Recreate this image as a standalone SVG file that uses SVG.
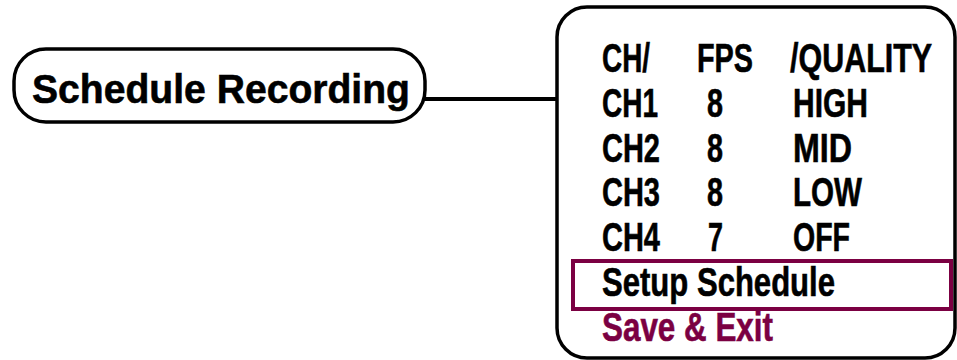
<svg xmlns="http://www.w3.org/2000/svg" width="957" height="360" viewBox="0 0 957 360">
<style>
.t{font-family:"Liberation Sans",Arial,sans-serif;font-weight:bold;font-size:41px;fill:#000;stroke:#000;stroke-width:0.6}
.p{fill:#7B0042;stroke:#7B0042}
.box{fill:#fff;stroke:#000;stroke-width:3.5}
</style>
<rect width="957" height="360" fill="#fff"/>
<g id="connectors">
<line x1="424" y1="99" x2="558" y2="99" stroke="#000" stroke-width="4"/>
</g>
<g id="schedule-recording">
<rect class="box" x="14" y="49" width="411" height="73" rx="32" ry="32" stroke-width="4"/>
<text class="t" x="32" y="103" font-size="50" textLength="378" lengthAdjust="spacingAndGlyphs">Schedule Recording</text>
</g>
<g id="menu">
<rect class="box" x="557" y="7" width="398" height="351" rx="30" ry="30"/>
<text class="t" x="602" y="72" textLength="48" lengthAdjust="spacingAndGlyphs">CH/</text>
<text class="t" x="697" y="72" textLength="56" lengthAdjust="spacingAndGlyphs">FPS</text>
<text class="t" transform="translate(790,72) scale(0.743,1)" x="0" y="0">/QUALITY</text>
<text class="t" x="602" y="117" textLength="56" lengthAdjust="spacingAndGlyphs">CH1</text>
<text class="t" x="707" y="117" textLength="16" lengthAdjust="spacingAndGlyphs">8</text>
<text class="t" x="793" y="117" textLength="75" lengthAdjust="spacingAndGlyphs">HIGH</text>
<text class="t" x="602" y="162" textLength="58" lengthAdjust="spacingAndGlyphs">CH2</text>
<text class="t" x="707" y="162" textLength="16" lengthAdjust="spacingAndGlyphs">8</text>
<text class="t" x="793" y="162" textLength="59" lengthAdjust="spacingAndGlyphs">MID</text>
<text class="t" x="602" y="206" textLength="58" lengthAdjust="spacingAndGlyphs">CH3</text>
<text class="t" x="707" y="206" textLength="16" lengthAdjust="spacingAndGlyphs">8</text>
<text class="t" x="793" y="206" textLength="69" lengthAdjust="spacingAndGlyphs">LOW</text>
<text class="t" x="602" y="251" textLength="58" lengthAdjust="spacingAndGlyphs">CH4</text>
<text class="t" x="708" y="251" textLength="15" lengthAdjust="spacingAndGlyphs">7</text>
<text class="t" x="793" y="251" textLength="57" lengthAdjust="spacingAndGlyphs">OFF</text>
<rect x="573" y="261" width="378" height="48" fill="none" stroke="#7B0042" stroke-width="4"/>
<text class="t" x="602" y="296" textLength="233" lengthAdjust="spacingAndGlyphs">Setup Schedule</text>
<text class="t p" x="602" y="341" textLength="171" lengthAdjust="spacingAndGlyphs">Save &amp; Exit</text>
</g>
</svg>
